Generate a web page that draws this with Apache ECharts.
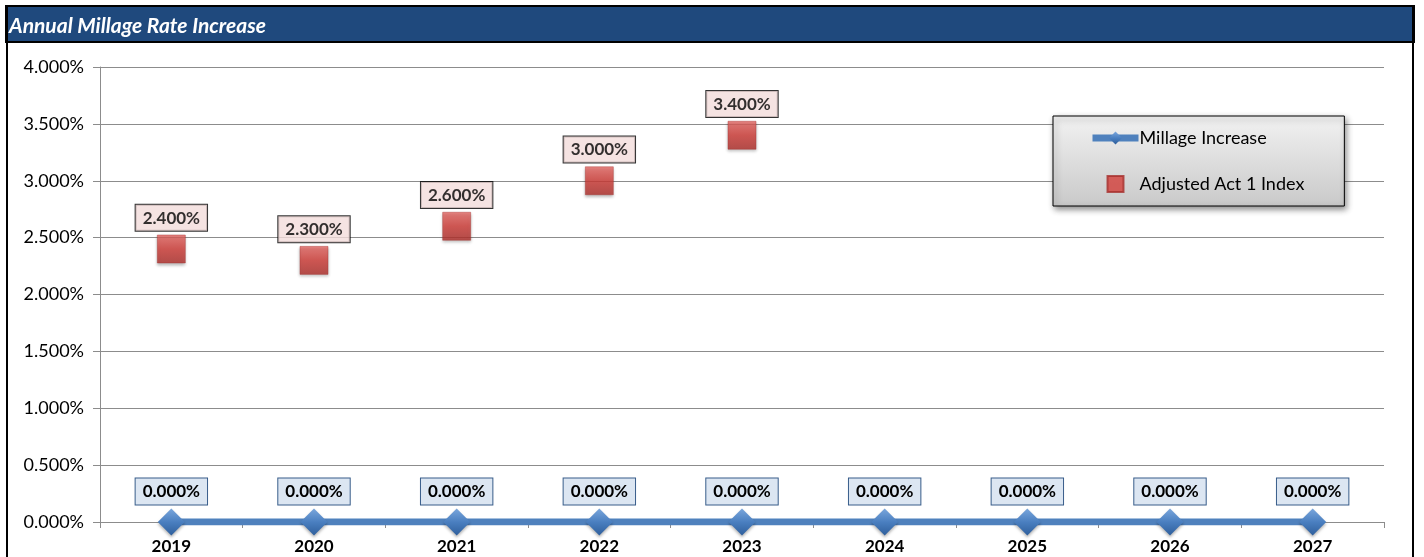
<!DOCTYPE html>
<html>
<head>
<meta charset="utf-8">
<title>Annual Millage Rate Increase</title>
<script src="https://cdn.jsdelivr.net/npm/echarts@6/dist/echarts.min.js"></script>
<style>
  html, body { margin: 0; padding: 0; background: #fff; }
  #chart { width: 1424px; height: 557px; }
</style>
</head>
<body>
<div id="chart"></div>
<script>
const years = ['2019', '2020', '2021', '2022', '2023', '2024', '2025', '2026', '2027']
const millageIncrease = [0, 0, 0, 0, 0, 0, 0, 0, 0]
const act1Index = [2.4, 2.3, 2.6, 3.0, 3.4]
const titleText = 'Annual Millage Rate Increase'

const font = 'Lato, "Open Sans", sans-serif'
const pct = v => v.toFixed(3) + '%'

const chart = echarts.init(document.getElementById('chart'))

const option = {
  backgroundColor: '#fff',
  animation: false,
  textStyle: { fontFamily: font },
  graphic: [
    // title bar
    { type: 'rect', shape: { x: 6, y: 6, width: 1408, height: 36 }, style: { fill: '#1F497D', stroke: '#000', lineWidth: 2 }, z: 10 },
    { type: 'text', left: 9, top: 16, style: { text: titleText, fill: '#fff', font: 'italic bold 21px ' + font }, z: 11 },
    // outer frame
    { type: 'line', shape: { x1: 7, y1: 6, x2: 7, y2: 557 }, style: { stroke: '#000', lineWidth: 2 }, z: 10 },
    { type: 'line', shape: { x1: 1413, y1: 6, x2: 1413, y2: 557 }, style: { stroke: '#000', lineWidth: 2 }, z: 10 }
  ],
  grid: { left: 100, right: 40, top: 67, bottom: 35, containLabel: false },
  legend: {
    orient: 'vertical',
    left: 1053,
    top: 116,
    padding: [13, 40, 13, 36],
    itemWidth: 46,
    itemHeight: 16,
    itemGap: 28,
    symbolKeepAspect: true,
    borderColor: '#000',
    borderWidth: 1,
    backgroundColor: new echarts.graphic.LinearGradient(0, 0, 0, 1, [
      { offset: 0, color: '#f2f2f2' },
      { offset: 1, color: '#c9c9c9' }
    ]),
    shadowColor: 'rgba(0,0,0,0.45)',
    shadowBlur: 6,
    shadowOffsetX: 2,
    shadowOffsetY: 3,
    textStyle: { fontSize: 18, color: '#000', fontFamily: font, padding: [0, 0, 0, -4] },
    data: [
      { name: 'Millage Increase', lineStyle: { width: 7, color: '#4F81BD' } },
      { name: 'Adjusted Act 1 Index', icon: 'path://M0,0h10v10h-10z', itemStyle: { color: '#d23d38' } }
    ]
  },
  xAxis: {
    type: 'category',
    data: years,
    boundaryGap: true,
    axisLine: { lineStyle: { color: '#8c8c8c', width: 1 } },
    axisTick: { show: true, length: 6, lineStyle: { color: '#8c8c8c' } },
    axisLabel: { color: '#000', fontSize: 17, fontWeight: 'bold', margin: 16, fontFamily: font },
    splitLine: { show: false }
  },
  yAxis: {
    type: 'value',
    min: 0,
    max: 4,
    interval: 0.5,
    axisLine: { show: true, lineStyle: { color: '#8c8c8c' } },
    axisTick: { show: true, inside: false, length: 7, lineStyle: { color: '#8c8c8c' } },
    axisLabel: { color: '#000', fontSize: 18, margin: 16, formatter: pct, fontFamily: font },
    splitLine: { lineStyle: { color: '#8c8c8c', width: 1 } }
  },
  series: [
    {
      name: 'Millage Increase',
      type: 'line',
      data: millageIncrease,
      symbol: 'diamond',
      symbolSize: 27,
      lineStyle: { color: '#4F81BD', width: 7 },
      itemStyle: {
        color: new echarts.graphic.LinearGradient(0, 0, 0, 1, [
          { offset: 0, color: '#7aa6dc' },
          { offset: 0.5, color: '#4a7fc0' },
          { offset: 1, color: '#2f5f9c' }
        ]),
        shadowColor: 'rgba(0,0,0,0.3)',
        shadowBlur: 3,
        shadowOffsetY: 2
      },
      label: {
        show: true,
        position: 'top',
        distance: 4,
        formatter: p => pct(p.value),
        color: '#000',
        fontSize: 17,
        fontWeight: 'bold',
        fontFamily: font,
        backgroundColor: '#DCE6F2',
        borderColor: '#385D8A',
        borderWidth: 1,
        padding: [5, 7, 4, 7]
      },
      z: 3
    },
    {
      name: 'Adjusted Act 1 Index',
      type: 'scatter',
      data: act1Index,
      symbol: 'rect',
      symbolSize: 28,
      itemStyle: {
        color: new echarts.graphic.LinearGradient(0, 0, 0, 1, [
          { offset: 0, color: '#e86a66' },
          { offset: 0.5, color: '#d23d38' },
          { offset: 1, color: '#b0302c' }
        ]),
        borderColor: '#a5302d',
        borderWidth: 0.5,
        shadowColor: 'rgba(0,0,0,0.35)',
        shadowBlur: 3,
        shadowOffsetY: 2
      },
      label: {
        show: true,
        position: 'top',
        distance: 4,
        formatter: p => pct(p.value),
        color: '#000',
        fontSize: 17,
        fontWeight: 'bold',
        fontFamily: font,
        backgroundColor: '#F2DCDB',
        borderColor: '#000',
        borderWidth: 1,
        padding: [5, 7, 4, 7]
      },
      z: 4
    }
  ]
}

chart.setOption(option)
</script>
</body>
</html>
